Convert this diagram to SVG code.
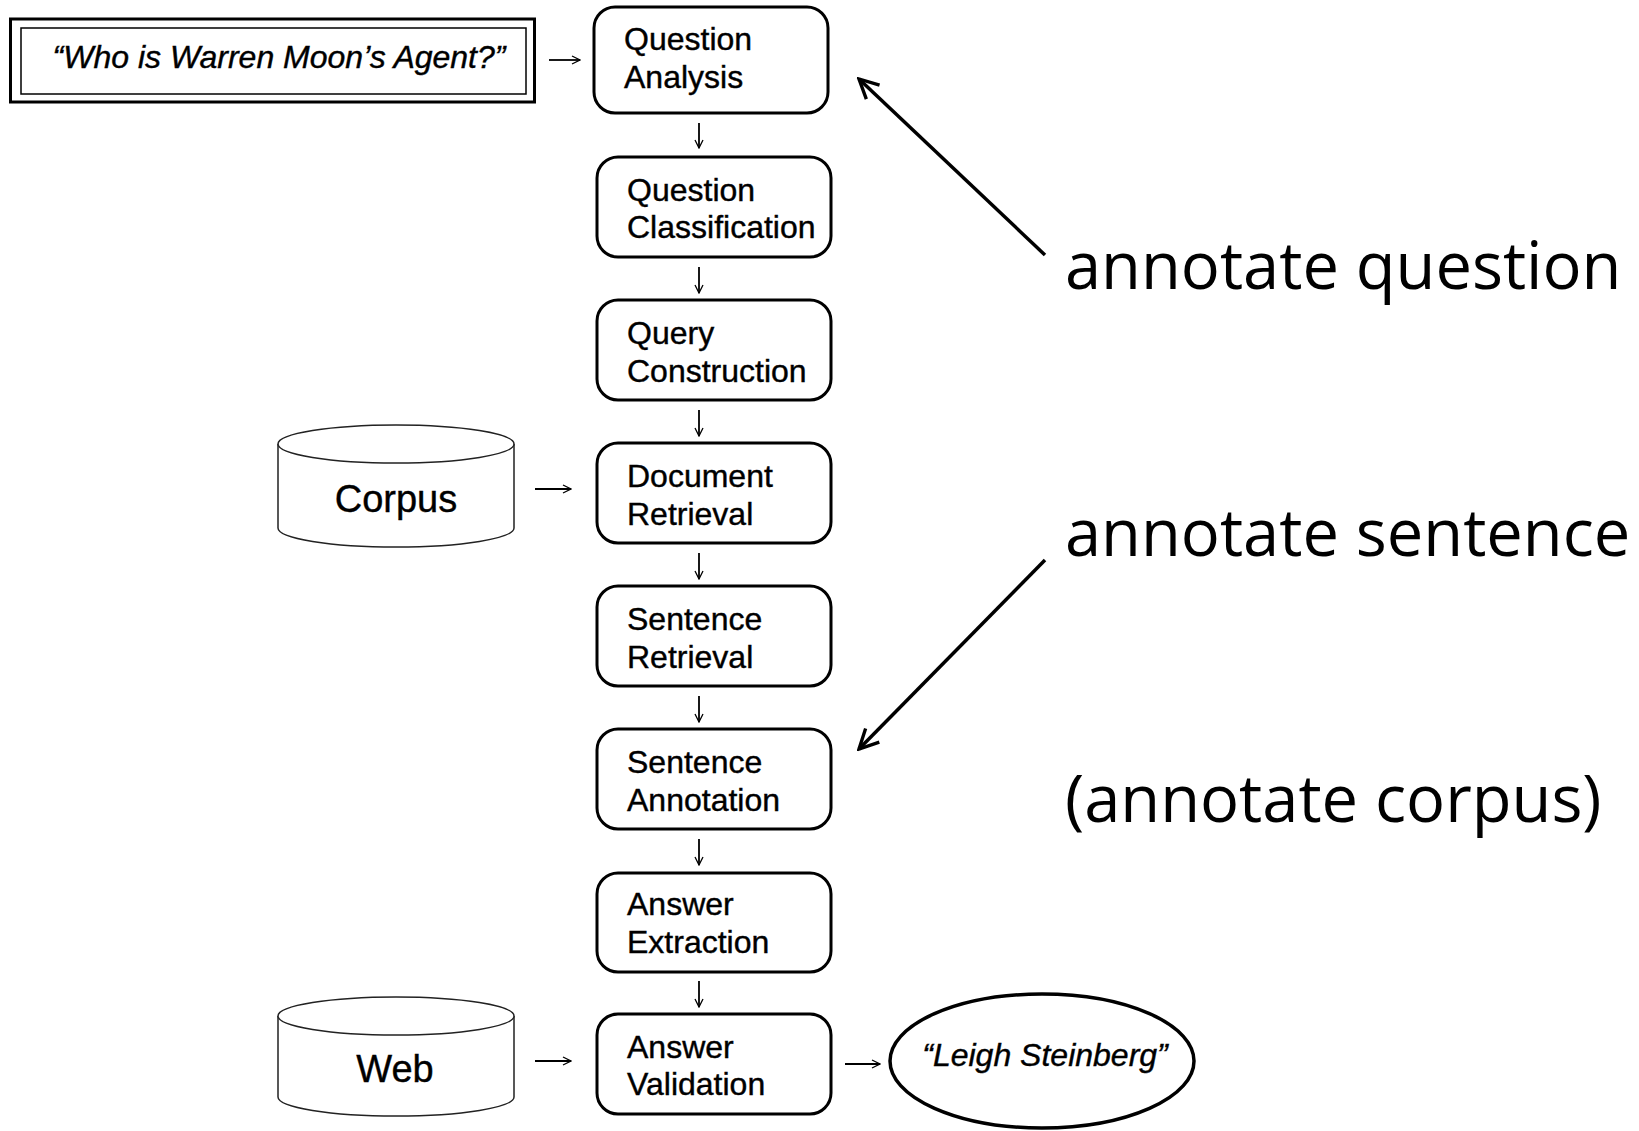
<svg xmlns="http://www.w3.org/2000/svg" width="1639" height="1131" viewBox="0 0 1639 1131">
<style>
.box{fill:#fff;stroke:#000;stroke-width:3}
.lbl{font-family:"Liberation Sans",Arial,sans-serif;font-size:32px;fill:#000;stroke:#000;stroke-width:0.4}
.it{font-family:"Liberation Sans",Arial,sans-serif;font-style:italic;font-size:32px;fill:#000;stroke:#000;stroke-width:0.4}
.db{fill:#fff;stroke:#222;stroke-width:1.5}
.dbt{font-family:"Liberation Sans",Arial,sans-serif;font-size:38px;fill:#000;stroke:#000;stroke-width:0.4}
.ann{font-family:"Open Sans","Noto Sans",sans-serif;font-size:65px;fill:#000}
.c{fill:none;stroke:#000;stroke-width:1.8}
.a{fill:none;stroke:#000;stroke-width:3.5}
</style>
<defs>
<marker id="h" viewBox="0 0 10 10" refX="9" refY="5" markerWidth="10" markerHeight="10" markerUnits="userSpaceOnUse" orient="auto">
<path d="M1,1 L9,5 L1,9" fill="none" stroke="#000" stroke-width="1.3"/>
</marker>
<marker id="hb" viewBox="0 0 10 10" refX="9" refY="5" markerWidth="24" markerHeight="24" markerUnits="userSpaceOnUse" orient="auto">
<path d="M1,1 L9,5 L1,9" fill="none" stroke="#000" stroke-width="1.4"/>
</marker>
</defs>
<rect width="1639" height="1131" fill="#fff"/>

<g id="question">
<rect x="10.5" y="19" width="524" height="83" fill="#fff" stroke="#000" stroke-width="3"/>
<rect x="21" y="28" width="505" height="66" fill="none" stroke="#000" stroke-width="1.5"/>
<text class="it" x="279" y="68" text-anchor="middle">“Who is Warren Moon’s Agent?”</text>
</g>

<g id="question-analysis">
<rect class="box" x="594" y="7" width="234" height="106" rx="21"/>
<text class="lbl" x="624" y="50">Question</text>
<text class="lbl" x="624" y="88">Analysis</text>
</g>
<g id="question-classification">
<rect class="box" x="597" y="157" width="234" height="100" rx="21"/>
<text class="lbl" x="627" y="201">Question</text>
<text class="lbl" x="627" y="238">Classification</text>
</g>
<g id="query-construction">
<rect class="box" x="597" y="300" width="234" height="100" rx="21"/>
<text class="lbl" x="627" y="344">Query</text>
<text class="lbl" x="627" y="382">Construction</text>
</g>
<g id="document-retrieval">
<rect class="box" x="597" y="443" width="234" height="100" rx="21"/>
<text class="lbl" x="627" y="487">Document</text>
<text class="lbl" x="627" y="525">Retrieval</text>
</g>
<g id="sentence-retrieval">
<rect class="box" x="597" y="586" width="234" height="100" rx="21"/>
<text class="lbl" x="627" y="630">Sentence</text>
<text class="lbl" x="627" y="668">Retrieval</text>
</g>
<g id="sentence-annotation">
<rect class="box" x="597" y="729" width="234" height="100" rx="21"/>
<text class="lbl" x="627" y="773">Sentence</text>
<text class="lbl" x="627" y="811">Annotation</text>
</g>
<g id="answer-extraction">
<rect class="box" x="597" y="873" width="234" height="99" rx="21"/>
<text class="lbl" x="627" y="915">Answer</text>
<text class="lbl" x="627" y="953">Extraction</text>
</g>
<g id="answer-validation">
<rect class="box" x="597" y="1014" width="234" height="100" rx="21"/>
<text class="lbl" x="627" y="1058">Answer</text>
<text class="lbl" x="627" y="1095">Validation</text>
</g>

<g id="corpus">
<path class="db" d="M278,444 L278,528 A118,19 0 0 0 514,528 L514,444"/>
<ellipse class="db" cx="396" cy="444" rx="118" ry="19"/>
<text class="dbt" x="396" y="512" text-anchor="middle">Corpus</text>
</g>
<g id="web">
<path class="db" d="M278,1016 L278,1097 A118,19 0 0 0 514,1097 L514,1016"/>
<ellipse class="db" cx="396" cy="1016" rx="118" ry="19"/>
<text class="dbt" x="395" y="1082" text-anchor="middle">Web</text>
</g>

<g id="answer">
<ellipse cx="1042" cy="1061" rx="152" ry="67" fill="#fff" stroke="#000" stroke-width="3.5"/>
<text class="it" x="1045" y="1066" text-anchor="middle">“Leigh Steinberg”</text>
</g>

<g id="annotate-question"><text class="ann" x="1065" y="289">annotate question</text></g>
<g id="annotate-sentence"><text class="ann" x="1065" y="556">annotate sentence</text></g>
<g id="annotate-corpus"><text class="ann" x="1065" y="822">(annotate corpus)</text></g>

<g id="connectors">
<path class="c" marker-end="url(#h)" d="M549,60 H580"/>
<path class="c" marker-end="url(#h)" d="M699,123 V148"/>
<path class="c" marker-end="url(#h)" d="M699,267 V293"/>
<path class="c" marker-end="url(#h)" d="M699,410 V436"/>
<path class="c" marker-end="url(#h)" d="M699,553 V579"/>
<path class="c" marker-end="url(#h)" d="M699,696 V722"/>
<path class="c" marker-end="url(#h)" d="M699,839 V865"/>
<path class="c" marker-end="url(#h)" d="M699,981 V1007"/>
<path class="c" marker-end="url(#h)" d="M535,489 H571"/>
<path class="c" marker-end="url(#h)" d="M535,1061 H571"/>
<path class="c" marker-end="url(#h)" d="M845,1064 H880"/>
<path class="a" marker-end="url(#hb)" d="M1045,255 L859,79"/>
<path class="a" marker-end="url(#hb)" d="M1045,560 L859,749"/>
</g>
</svg>
